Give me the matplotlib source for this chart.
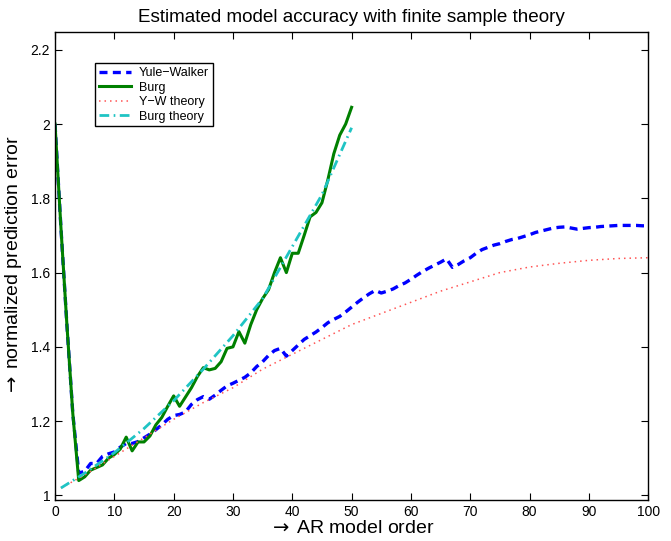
#!/usr/bin/env python3
"""Estimated model accuracy with finite sample theory (AR order vs prediction error)."""

import matplotlib
matplotlib.use("Agg")
import matplotlib.pyplot as plt

plt.rcParams['font.family'] = ['Liberation Sans', 'DejaVu Sans']

# Yule-Walker estimate, orders 0..100
yw_order = list(range(0, 101))
yw_err = [
	2.0, 1.72, 1.46, 1.22, 1.06, 1.065, 1.086, 1.086, 1.105, 1.112,
	1.117, 1.13, 1.14, 1.14, 1.145, 1.155, 1.165, 1.177, 1.19, 1.205,
	1.215, 1.218, 1.225, 1.245, 1.258, 1.266, 1.259, 1.27, 1.283, 1.295,
	1.302, 1.31, 1.318, 1.33, 1.347, 1.36, 1.377, 1.39, 1.396, 1.375,
	1.39, 1.405, 1.42, 1.43, 1.44, 1.452, 1.465, 1.474, 1.482, 1.494,
	1.507, 1.52, 1.532, 1.543, 1.552, 1.545, 1.55, 1.556, 1.565, 1.572,
	1.582, 1.593, 1.603, 1.612, 1.62, 1.628, 1.637, 1.614, 1.622, 1.632,
	1.64, 1.652, 1.662, 1.668, 1.674, 1.678, 1.684, 1.689, 1.692, 1.697,
	1.702, 1.708, 1.712, 1.716, 1.72, 1.722, 1.723, 1.72, 1.717, 1.719,
	1.721, 1.722, 1.724, 1.725, 1.726, 1.727, 1.727, 1.727, 1.727, 1.726,
	1.726,
]

# Burg estimate, orders 0..50
burg_order = list(range(0, 51))
burg_err = [
	2.0, 1.72, 1.46, 1.22, 1.04, 1.05, 1.068, 1.075, 1.082, 1.10,
	1.11, 1.125, 1.157, 1.12, 1.144, 1.144, 1.16, 1.19, 1.21, 1.24,
	1.268, 1.24, 1.265, 1.29, 1.32, 1.344, 1.338, 1.342, 1.36, 1.396,
	1.40, 1.441, 1.41, 1.46, 1.50, 1.53, 1.554, 1.60, 1.64, 1.60,
	1.652, 1.652, 1.70, 1.75, 1.762, 1.788, 1.85, 1.92, 1.97, 2.0,
	2.045,
]

# finite sample theory curves
ywt_order = [1, 5, 10, 15, 20, 25, 30, 35, 40, 45, 50, 55, 60, 65, 70, 75, 80, 85, 90, 95, 100]
ywt_err = [1.02, 1.055, 1.105, 1.155, 1.205, 1.25, 1.29, 1.34, 1.38, 1.42, 1.46,
		   1.49, 1.52, 1.55, 1.575, 1.60, 1.615, 1.625, 1.633, 1.638, 1.64]

bt_order = [1, 5, 10, 15, 20, 25, 30, 35, 40, 45, 50]
bt_err = [1.02, 1.06, 1.115, 1.18, 1.255, 1.34, 1.43, 1.53, 1.67, 1.81, 1.99]

y_ticks = [1, 1.2, 1.4, 1.6, 1.8, 2, 2.2]
y_tick_labels = ['1', '1.2', '1.4', '1.6', '1.8', '2', '2.2']
x_ticks = list(range(0, 101, 10))


def main():
	fig = plt.figure(figsize=(6.71, 5.41), dpi=100)
	ax = fig.add_axes([0.082, 0.076, 0.884, 0.865])

	ax.plot(yw_order, yw_err, color='#0000ff', lw=2.4, dashes=(2.4, 1.6),
			label='Yule\u2212Walker')
	ax.plot(burg_order, burg_err, color='#008000', lw=2.2, label='Burg')
	ax.plot(ywt_order, ywt_err, color='#ff5555', lw=1.1, dashes=(1.0, 2.6),
			label='Y\u2212W theory')
	ax.plot(bt_order, bt_err, color='#1fc4c4', lw=2.0, dashes=(3.5, 1.6, 0.6, 1.6),
			label='Burg theory')

	ax.set_xlim(0, 100)
	ax.set_ylim(0.988, 2.248)
	ax.set_xticks(x_ticks)
	ax.set_yticks(y_ticks)
	ax.set_yticklabels(y_tick_labels)
	ax.tick_params(direction='in', length=5, width=0.8, top=True, right=True,
				   labelsize=10)
	for sp in ax.spines.values():
		sp.set_linewidth(1.0)

	ax.set_title('Estimated model accuracy with finite sample theory',
				 fontsize=13.6, pad=7)
	ax.set_xlabel(r'$\rightarrow\,$AR model order', fontsize=14, labelpad=1)
	ax.set_ylabel(r'$\rightarrow\,$normalized prediction error', fontsize=14,
				  labelpad=5)

	leg = ax.legend(loc='upper left', bbox_to_anchor=(0.0675, 0.933),
					borderaxespad=0, fontsize=9, fancybox=False, framealpha=1,
					edgecolor='black', handlelength=2.6, handletextpad=0.6,
					labelspacing=0.2, borderpad=0.3)
	leg.get_frame().set_linewidth(1.0)

	fig.savefig('out.png', dpi=100)
	plt.close(fig)


if __name__ == "__main__":
	main()
